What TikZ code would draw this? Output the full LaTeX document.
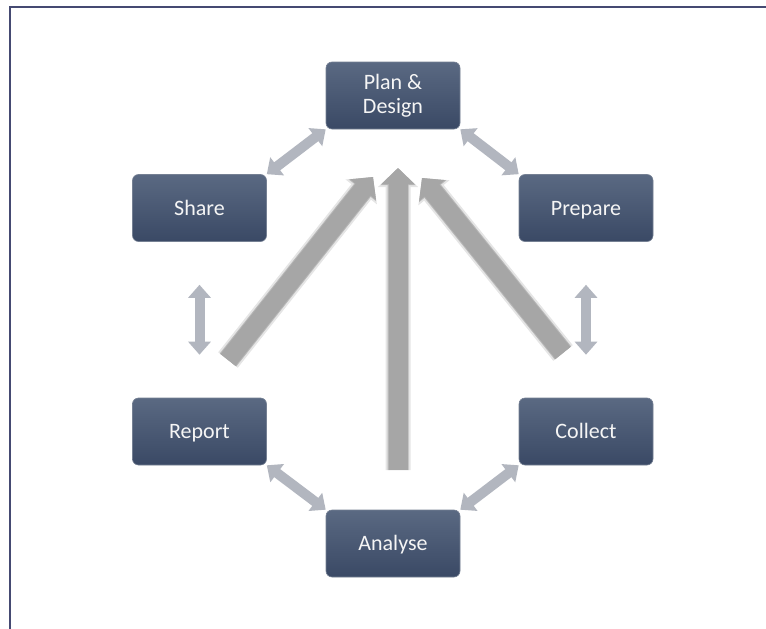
\documentclass[tikz,border=0pt]{standalone}
\usepackage{fontspec}
\setmainfont{Carlito}
\usetikzlibrary{arrows.meta}
\definecolor{boxtop}{HTML}{5A6982}
\definecolor{boxbot}{HTML}{3A4965}
\definecolor{bigarrow}{HTML}{A6A6A6}
\definecolor{smallarrow}{HTML}{B2B6BF}
\definecolor{frameblue}{HTML}{454A72}
\begin{document}
\begin{tikzpicture}[x=1pt,y=-1pt,
  stagebox/.style={rounded corners=6pt, top color=boxtop, bottom color=boxbot,
    draw=boxbot!70!white, line width=0.6pt, minimum width=134pt, minimum height=67pt,
    text=white!92!gray, font=\fontsize{22}{24}\selectfont, align=center, inner sep=0pt},
  oneline/.style={stagebox, text height=17pt, text depth=3pt},
  twoway/.style={draw=smallarrow, line width=10pt,
    {Triangle[width=22pt,length=13pt]}-{Triangle[width=22pt,length=13pt]}},
  bigarr/.style={draw=bigarrow, line width=19pt, -{Triangle[width=32pt,length=16pt]}},
  bigshadow/.style={draw=black, line width=19pt, -{Triangle[width=32pt,length=16pt]}}
]
\useasboundingbox (0,0) rectangle (766,629);
\fill[white] (0,0) rectangle (766,629);
\draw[frameblue, line width=2pt] (10,629) -- (10,7) -- (766,7);

\node[stagebox] (plan) at (393,95.5) {Plan \&\\Design};
\node[oneline] (share) at (199.5,208) {Share};
\node[oneline] (prep) at (586,208) {Prepare};
\node[oneline] (report) at (199.5,431.5) {Report};
\node[oneline] (collect) at (586,431.5) {Collect};
\node[oneline] (analyse) at (393,543.5) {Analyse};

\draw[twoway] (plan.south west) -- (share.north east);
\draw[twoway] (plan.south east) -- (prep.north west);
\draw[twoway, shorten <=43pt, shorten >=43pt] (share.south) -- (report.north);
\draw[twoway, shorten <=43pt, shorten >=43pt] (prep.south) -- (collect.north);
\draw[twoway] (report.south east) -- (analyse.north west);
\draw[twoway] (collect.south west) -- (analyse.north east);

\coordinate (cB) at (398,470);
\coordinate (cT) at (398,168);
\coordinate (lB) at (228,360);
\coordinate (lT) at (373,177);
\coordinate (rB) at (563,353);
\coordinate (rT) at (422,178);

\foreach \a/\b in {cB/cT,lB/lT,rB/rT}{
  \begin{scope}[transparency group, opacity=0.10, shift={(5,5)}]
    \draw[bigshadow, line width=25pt, -{Triangle[width=39pt,length=19pt]}] (\a) -- (\b);
  \end{scope}
  \begin{scope}[transparency group, opacity=0.20, shift={(3,3)}]
    \draw[bigshadow, line width=21pt, -{Triangle[width=34pt,length=17pt]}] (\a) -- (\b);
  \end{scope}
  \draw[bigarr] (\a) -- (\b);
}
\end{tikzpicture}
\end{document}
